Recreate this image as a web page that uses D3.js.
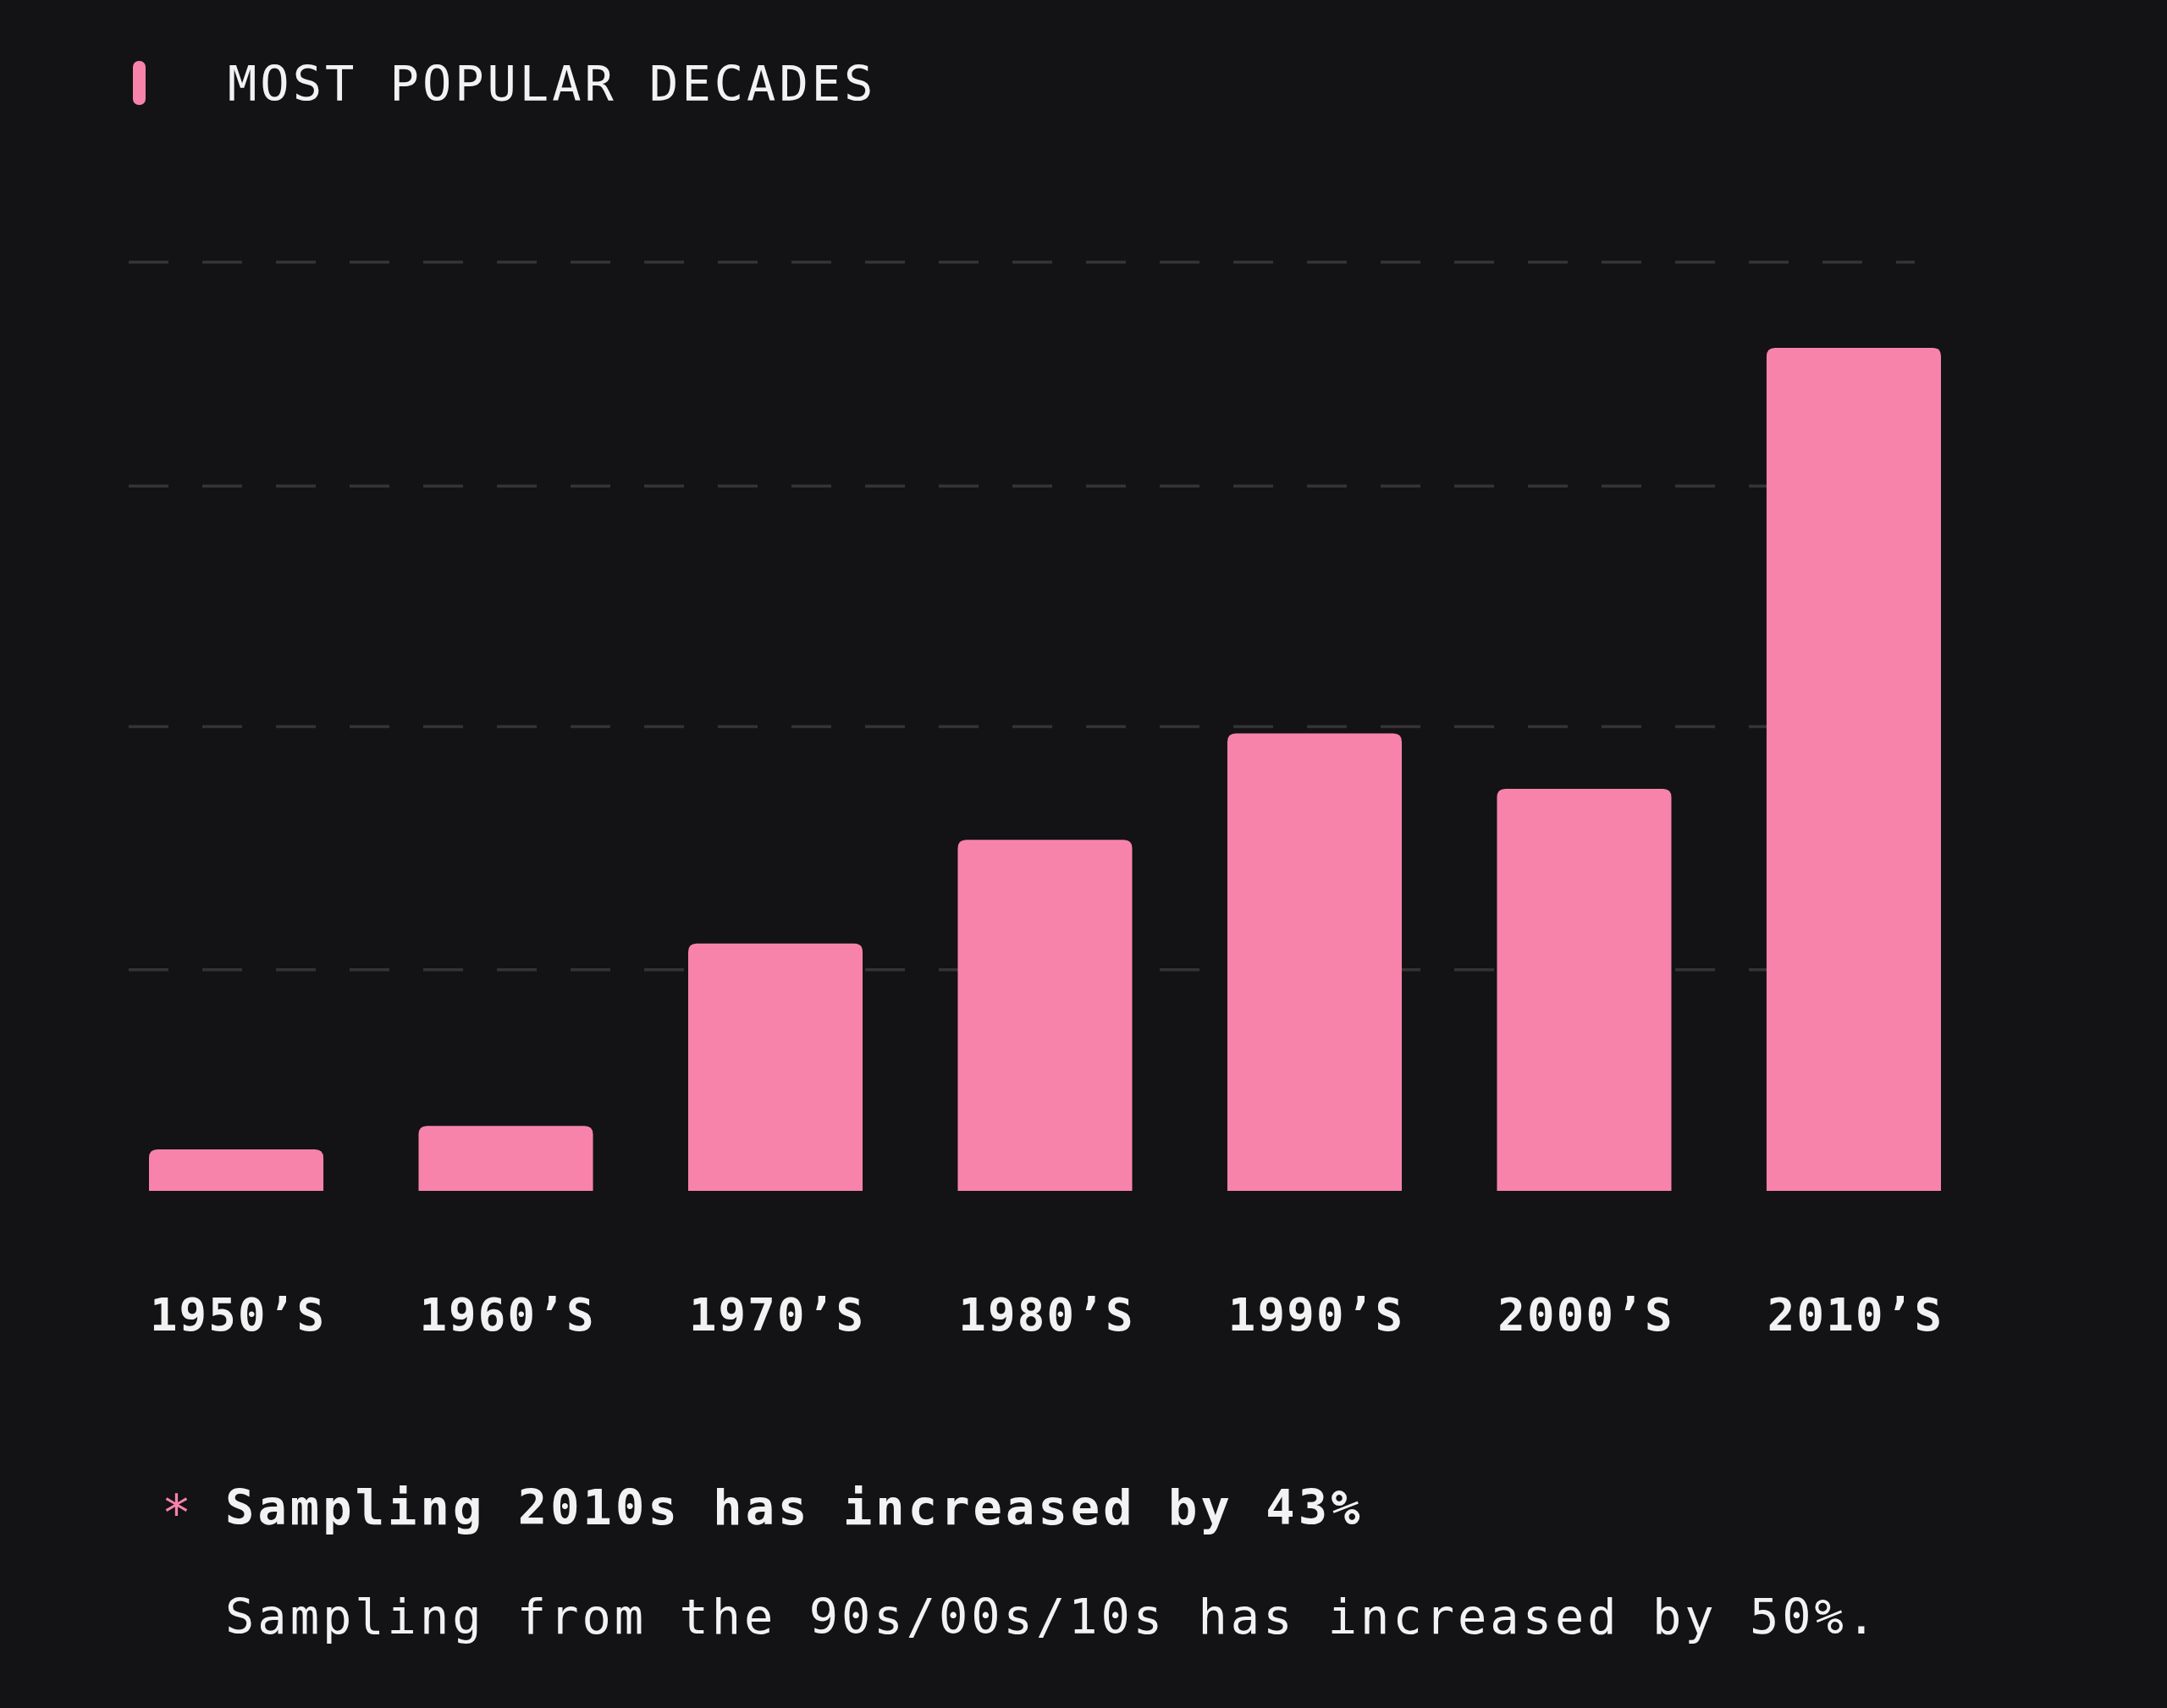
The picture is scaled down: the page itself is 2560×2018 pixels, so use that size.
<!DOCTYPE html>
<html>
<head>
<meta charset="utf-8">
<script src="https://cdn.jsdelivr.net/npm/d3@7"></script>
<style>
  html, body { margin: 0; padding: 0; background: #131214; }
</style>
</head>
<body>
<div id="chart"></div>
<script>
// decades and their relative popularity
let decades = ["1950’S", "1960’S", "1970’S", "1980’S", "1990’S", "2000’S", "2010’S"];
let popularity = [30, 47, 179, 254, 331, 291, 610];
let gridValues = [160, 336, 510, 672];

let titleText = "MOST POPULAR DECADES";
let noteLine1 = "Sampling 2010s has increased by 43%";
let noteLine2 = "Sampling from the 90s/00s/10s has increased by 50%.";

let width = 2560;
let height = 2018;
let pink = "#f783ab";
let mono = "'DejaVu Sans Mono', 'Liberation Mono', monospace";

let svg = d3.select("#chart")
    .append("svg")
    .attr("width", width)
    .attr("height", height);

svg.append("rect")
    .attr("width", width)
    .attr("height", height)
    .attr("fill", "#131214");

// title + little pink marker
svg.append("rect")
    .attr("x", 157)
    .attr("y", 72)
    .attr("width", 15)
    .attr("height", 52)
    .attr("rx", 7)
    .attr("fill", pink);

svg.append("text")
    .attr("x", 269)
    .attr("y", 119)
    .style("font-family", mono)
    .style("font-size", "57px")
    .style("letter-spacing", "4px")
    .attr("fill", "#f2f2f2")
    .text(titleText);

// scales
let x = d3.scaleBand()
    .domain(decades)
    .range([176, 2293])
    .paddingInner(0.353)
    .paddingOuter(0);

let baseline = 1407;
let y = d3.scaleLinear()
    .domain([0, 700])
    .range([baseline, baseline - 700 * 1.6327]);

// dashed gridlines behind the bars
svg.append("g")
    .selectAll("line")
    .data(gridValues)
    .enter()
    .append("line")
    .attr("x1", 152)
    .attr("x2", 2262)
    .attr("y1", d => y(d))
    .attr("y2", d => y(d))
    .attr("stroke", "#353335")
    .attr("stroke-width", 3.5)
    .attr("stroke-dasharray", "47 40");

// bars with rounded top corners only
function barPath(d, i) {
    let x0 = x(decades[i]);
    let w = x.bandwidth();
    let top = y(d);
    let r = Math.min(10, (baseline - top) / 2);
    return "M" + x0 + "," + baseline +
        "V" + (top + r) +
        "Q" + x0 + "," + top + " " + (x0 + r) + "," + top +
        "H" + (x0 + w - r) +
        "Q" + (x0 + w) + "," + top + " " + (x0 + w) + "," + (top + r) +
        "V" + baseline + "Z";
}

svg.append("g")
    .selectAll("path")
    .data(popularity)
    .enter()
    .append("path")
    .attr("d", barPath)
    .attr("fill", pink);

// decade labels
svg.append("g")
    .selectAll("text")
    .data(decades)
    .enter()
    .append("text")
    .attr("x", d => x(d) + x.bandwidth() / 2 + 2)
    .attr("y", 1572)
    .style("text-anchor", "middle")
    .style("font-family", mono)
    .style("font-weight", "bold")
    .style("font-size", "54px")
    .style("letter-spacing", "2.2px")
    .attr("fill", "#f2f2f2")
    .text(d => d);

// footnote
svg.append("text")
    .attr("x", 191)
    .attr("y", 1808)
    .style("font-family", mono)
    .style("font-size", "58px")
    .attr("fill", pink)
    .text("*");

svg.append("text")
    .attr("x", 266)
    .attr("y", 1801)
    .style("font-family", mono)
    .style("font-weight", "bold")
    .style("font-size", "57px")
    .style("letter-spacing", "4.1px")
    .attr("fill", "#f2f2f2")
    .text(noteLine1);

svg.append("text")
    .attr("x", 266)
    .attr("y", 1930)
    .style("font-family", mono)
    .style("font-size", "57px")
    .style("letter-spacing", "4px")
    .attr("fill", "#f2f2f2")
    .text(noteLine2);
</script>
</body>
</html>
